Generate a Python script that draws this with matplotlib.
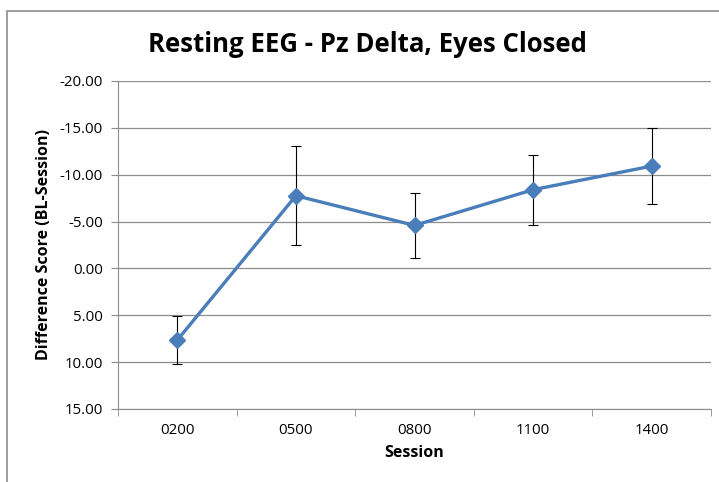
import matplotlib.pyplot as plt
from matplotlib.patches import Rectangle

sessions = ['0200', '0500', '0800', '1100', '1400']
scores = [7.65, -7.76, -4.59, -8.40, -10.92]
errors = [2.55, 5.30, 3.45, 3.75, 4.07]
yticks = [-20, -15, -10, -5, 0, 5, 10, 15]

plt.rcParams['font.family'] = ['Open Sans', 'DejaVu Sans']

fig = plt.figure(figsize=(7.19, 4.82), dpi=100)
W, H = 719, 482
ax = fig.add_axes([118 / W, 1 - 409 / H, (711 - 118) / W, (409 - 81) / H])

# outer chart border (runs off the right and bottom edges)
fig.patches.append(Rectangle((7 / W, -0.1), 1.1, 1 - 11 / H + 0.1,
                             transform=fig.transFigure, fill=False,
                             edgecolor='#8c8c8c', linewidth=1.2))

x = list(range(len(sessions)))
ax.errorbar(x, scores, yerr=errors, fmt='none', ecolor='black',
            elinewidth=0.8, capsize=3.5, capthick=0.8, zorder=2)
ax.plot(x, scores, color='#4A7EBB', linewidth=2.4, marker='D',
        markersize=8.5, zorder=3)

ax.set_xlim(-0.5, len(sessions) - 0.5)
ax.set_ylim(15, -20)
ax.set_yticks(yticks)
ax.set_yticklabels(['%.2f' % v for v in yticks], fontsize=10.8)
ax.set_xticks(x)
ax.set_xticklabels(sessions, fontsize=10.8)
ax.set_xticks([i - 0.5 for i in range(len(sessions) + 1)], minor=True)
ax.tick_params(axis='x', which='major', length=0, pad=10)
ax.tick_params(axis='x', which='minor', length=5, color='#8c8c8c')
ax.tick_params(axis='y', length=5, color='#8c8c8c', pad=6)

ax.grid(axis='y', color='#8c8c8c', linewidth=0.9)
ax.set_axisbelow(True)
for side in ['top', 'right']:
    ax.spines[side].set_visible(False)
for side in ['left', 'bottom']:
    ax.spines[side].set_color('#8c8c8c')

ax.set_ylabel('Difference Score (BL-Session)', fontsize=11.5,
              fontweight='bold', labelpad=5)
ax.set_xlabel('Session', fontsize=11.5, fontweight='bold', labelpad=5)
fig.text(367 / W, 1 - 44 / H, 'Resting EEG - Pz Delta, Eyes Closed',
         fontsize=18.5, fontweight='bold', ha='center', va='center')

fig.savefig('out.png', dpi=100)
